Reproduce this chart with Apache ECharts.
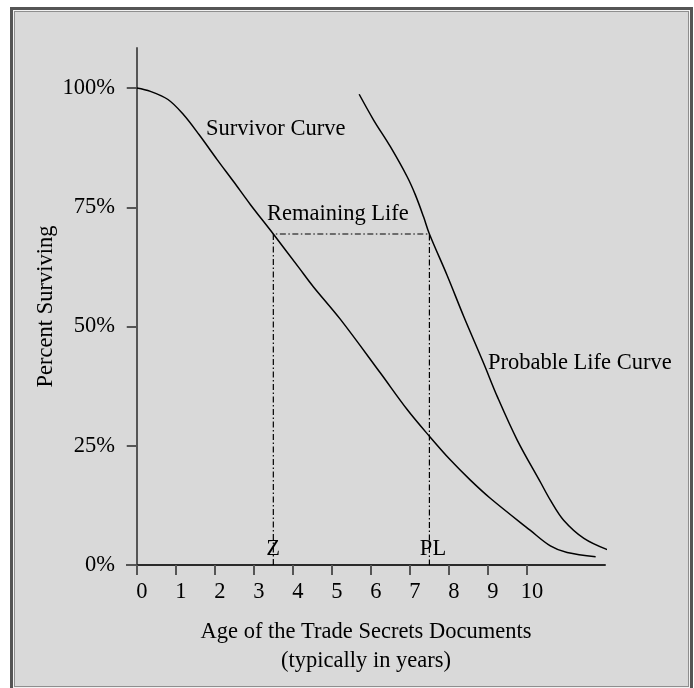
<!DOCTYPE html>
<html>
<head>
<meta charset="utf-8">
<title>Survivor Curve</title>
<script src="https://cdn.jsdelivr.net/npm/echarts@6/dist/echarts.min.js"></script>
<style>
    html, body {margin: 0; padding: 0; background: #fff; overflow: hidden;}
    #frame {
        position: absolute; left: 10px; top: 7px; width: 683px; height: 684px;
        box-sizing: border-box; border: 3px solid #555; background: #d9d9d9;
        box-shadow: inset 0 0 0 1px #f2f2f2, inset 0 0 0 2px #8e8e8e;
    }
    #main {position: absolute; left: 0; top: 0; width: 694px; height: 688px;}
</style>
</head>
<body>
<div id="frame"></div>
<div id="main"></div>
<script>
var xTicks = [0, 1, 2, 3, 4, 5, 6, 7, 8, 9, 10];
var yTicks = [0, 25, 50, 75, 100];

// [age, percent surviving]
var survivorCurve = [
    [0, 100], [0.35, 99.3], [0.8, 97.6], [1.19, 94.5], [1.6, 90.2], [2.06, 85.0],
    [2.48, 80.4], [2.91, 75.6], [3.5, 69.4], [4.15, 62.4], [4.53, 58.3], [5.22, 51.5],
    [6.24, 40.3], [6.93, 32.6], [7.51, 26.9], [8.04, 22.0], [8.55, 17.8], [9.06, 14.0],
    [10.08, 7.3], [10.6, 4.0], [11.03, 2.6], [11.76, 1.75]
];
var probableLifeCurve = [
    [5.7, 98.7], [6.07, 93.3], [6.5, 87.7], [6.93, 81.4], [7.14, 77.6], [7.35, 73.0],
    [7.5, 69.4], [7.95, 60.8], [8.38, 52.1], [8.89, 42.3], [9.24, 35.3], [9.75, 26.2],
    [10.35, 17.3], [10.6, 13.6], [10.94, 9.4], [11.46, 5.6], [12.1, 3.1]
];
var remainingLife = [[3.5, 0], [3.5, 69.4], [7.5, 69.4], [7.5, 0]];

var serif = "'Liberation Serif', 'Times New Roman', serif";
var ink = '#000';

var myChart = echarts.init(document.getElementById('main'), null, {renderer: 'canvas'});

var option = {
    backgroundColor: 'transparent',
    animation: false,
    grid: {left: 127, right: 89, top: 48, bottom: 123},
    xAxis: {
        type: 'value',
        min: -0.25,
        max: 12,
        name: 'Age of the Trade Secrets Documents\n(typically in years)',
        nameLocation: 'middle',
        nameGap: 53,
        nameTextStyle: {fontFamily: serif, fontSize: 22.5, color: ink, lineHeight: 29},
        axisLine: {onZero: false, lineStyle: {color: '#2a2a2a', width: 2}},
        axisTick: {show: true, customValues: xTicks, length: 10, lineStyle: {color: '#555', width: 2}},
        axisLabel: {
            customValues: xTicks, fontFamily: serif, fontSize: 22.5, color: ink,
            margin: 16, padding: [0, 0, 0, 10]
        },
        splitLine: {show: false}
    },
    yAxis: {
        type: 'value',
        min: 0,
        max: 108.4,
        name: 'Percent Surviving',
        nameLocation: 'middle',
        nameGap: 69,
        nameMoveOverlap: false,
        nameTextStyle: {fontFamily: serif, fontSize: 22.5, color: ink},
        axisLine: {show: true, onZero: true, lineStyle: {color: '#555', width: 2}},
        axisTick: {show: true, customValues: yTicks, length: 10, lineStyle: {color: '#555', width: 2}},
        axisLabel: {
            customValues: yTicks, fontFamily: serif, fontSize: 22.5, color: ink, margin: 12,
            formatter: function (v) { return v + '%'; }
        },
        splitLine: {show: false}
    },
    graphic: [
        {type: 'text', left: 206, top: 118, style: {text: 'Survivor Curve', font: '22.5px ' + serif, fill: ink}},
        {type: 'text', left: 267, top: 203, style: {text: 'Remaining Life', font: '22.5px ' + serif, fill: ink}},
        {type: 'text', left: 488, top: 352, style: {text: 'Probable Life Curve', font: '22.5px ' + serif, fill: ink}},
        {type: 'text', x: 273, y: 549, style: {text: 'Z', font: '22.5px ' + serif, fill: ink, align: 'center', verticalAlign: 'middle'}},
        {type: 'text', x: 433, y: 549, style: {text: 'PL', font: '22.5px ' + serif, fill: ink, align: 'center', verticalAlign: 'middle'}}
    ],
    series: [
        {
            name: 'Survivor Curve', type: 'line', data: survivorCurve, smooth: 0.35,
            symbol: 'none', clip: false, lineStyle: {color: ink, width: 1.5}
        },
        {
            name: 'Probable Life Curve', type: 'line', data: probableLifeCurve, smooth: 0.35,
            symbol: 'none', clip: false, lineStyle: {color: ink, width: 1.5}
        },
        {
            name: 'Remaining Life', type: 'line', data: remainingLife, symbol: 'none',
            lineStyle: {color: ink, width: 1.2, type: [6, 2.5, 1.5, 2.5]}
        }
    ]
};

myChart.setOption(option);
</script>
</body>
</html>
